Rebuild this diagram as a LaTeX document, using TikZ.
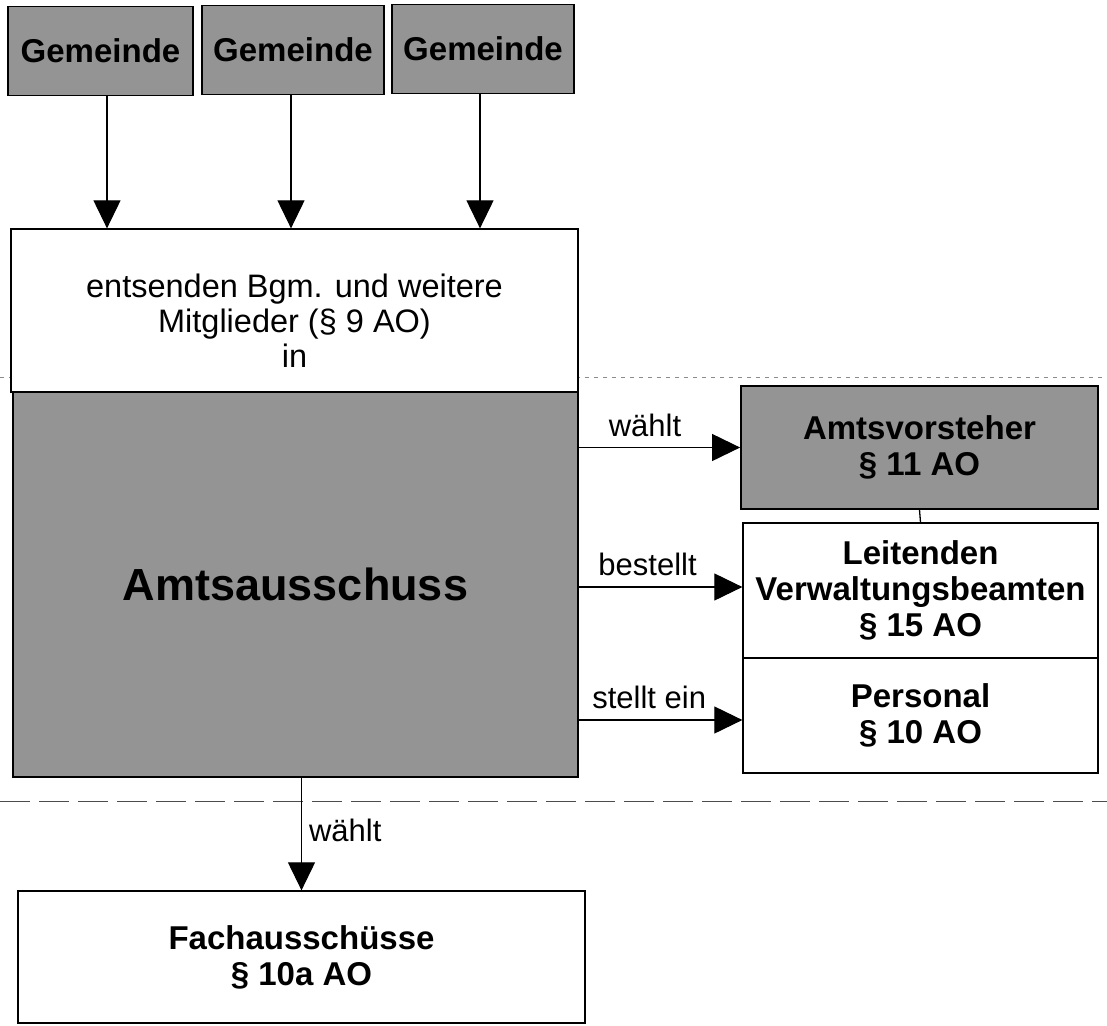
\documentclass[tikz,border=0pt]{standalone}
\usepackage{fontspec}
\setmainfont{Liberation Sans}
\usetikzlibrary{arrows.meta}
\begin{document}
\begin{tikzpicture}[x=1pt,y=-1pt,
  graybox/.style={draw=black, line width=1.8pt, fill=black!42, inner sep=0pt, align=center},
  whitebox/.style={draw=black, line width=1.3pt, fill=white, inner sep=0pt, align=center},
  titletext/.style={font=\fontsize{33}{36}\selectfont\bfseries},
  plaintext/.style={font=\fontsize{32.5}{35}\selectfont},
  lbl/.style={font=\fontsize{31}{34}\selectfont, inner sep=0pt},
  conn/.style={draw=black, line width=1.1pt, -{Triangle[length=28pt,width=27pt]}},
  sepline/.style={draw=black!70, line width=1pt, dash pattern=on 30pt off 9pt},
  faintline/.style={draw=black!45, line width=0.8pt, dash pattern=on 4pt off 5pt},
]
\useasboundingbox (0,0) rectangle (1107,1025);

% separator lines
\coordinate (fl) at (0,377);
\coordinate (fr) at (1107,377);
\draw[faintline] (fl) -- (fr);
\coordinate (dl) at (0,801);
\coordinate (dr) at (1107,801);
\draw[sepline] (dl) -- (dr);

% Gemeinden
\node[graybox, titletext, minimum width=185pt, minimum height=89pt] (g1) at (100.5,51) {Gemeinde};
\node[graybox, titletext, minimum width=182pt, minimum height=89pt] (g2) at (293,50) {Gemeinde};
\node[graybox, titletext, minimum width=182pt, minimum height=89pt] (g3) at (483,49) {Gemeinde};

% top white box and Amtsausschuss
\node[whitebox, minimum width=567pt, minimum height=163pt] (top) at (294.5,310.5) {};
\node[plaintext, align=center, inner sep=0pt] (toptext) at (294.5,321) {entsenden Bgm. und weitere\\Mitglieder (§ 9 AO)\\in};
\node[graybox, minimum width=565pt, minimum height=385pt,
      font=\fontsize{45}{50}\selectfont\bfseries] (amt) at (295.5,584.5) {Amtsausschuss};

% right column
\node[graybox, titletext, minimum width=357pt, minimum height=123pt] (av) at (919.5,447.5) {Amtsvorsteher\\§ 11 AO};
\node[whitebox, titletext, minimum width=355pt, minimum height=135pt] (lv) at (920.5,590.5) {Leitenden\\Verwaltungsbeamten\\§ 15 AO};
\node[whitebox, titletext, minimum width=355pt, minimum height=115pt] (pe) at (920.5,715.5) {Personal\\§ 10 AO};

% Fachausschüsse
\node[whitebox, titletext, minimum width=567pt, minimum height=132pt] (fa) at (301.5,957) {Fachausschüsse\\§ 10a AO};

% arrows from Gemeinden
\draw[conn] ([xshift=6.5pt]g1.south) -- ([xshift=6.5pt]g1.south |- top.north);
\draw[conn] ([xshift=-2pt]g2.south) -- ([xshift=-2pt]g2.south |- top.north);
\draw[conn] ([xshift=-3pt]g3.south) -- ([xshift=-3pt]g3.south |- top.north);

% arrows to the right
\draw[conn] (av.west -| amt.east) -- (av.west)
  node[lbl, pos=0.41, anchor=base, yshift=11pt] {wählt};
\draw[conn] ([yshift=3.5pt]lv.west -| amt.east) -- ([yshift=3.5pt]lv.west)
  node[lbl, pos=0.42, anchor=base, yshift=12pt] {bestellt};
\draw[conn] ([yshift=-4.5pt]pe.west -| amt.east) -- ([yshift=-4.5pt]pe.west)
  node[lbl, pos=0.43, anchor=base, yshift=12pt] {stellt ein};

% Amtsvorsteher -- Leitenden
\draw[draw=black, line width=1.3pt] (av.south) -- (lv.north);

% down to Fachausschüsse
\draw[conn] (amt.south -| fa.north) -- (fa.north)
  node[lbl, pos=0.47, anchor=west, xshift=7pt] {wählt};
\end{tikzpicture}
\end{document}
